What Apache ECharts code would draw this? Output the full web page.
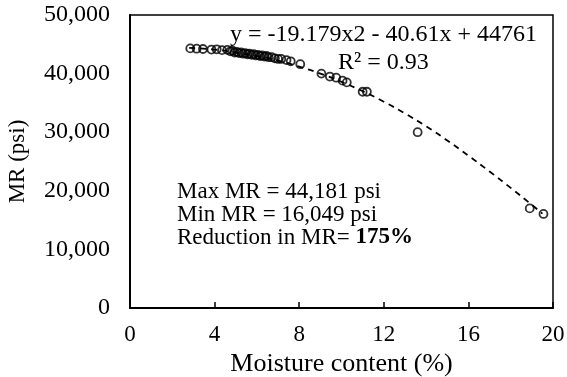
<!DOCTYPE html>
<html>
<head>
<meta charset="utf-8">
<script src="https://cdn.jsdelivr.net/npm/echarts@6/dist/echarts.min.js"></script>
<style>
    html, body { margin: 0; padding: 0; background: #fff; }
    #mr-chart { width: 567px; height: 377px; }
</style>
</head>
<body>
<div id="mr-chart"></div>
<script>
    // moisture content (%) of each test
    var moisture = [2.85, 3.15, 3.45, 3.85, 4.1, 4.35, 4.6, 4.75, 4.85, 4.95, 5.05, 5.15, 5.25, 5.35, 5.45,
        5.55, 5.65, 5.75, 5.85, 5.95, 6.05, 6.15, 6.25, 6.35, 6.45, 6.55, 6.7, 6.85, 7.0, 7.15, 7.4, 7.6,
        8.05, 9.05, 9.45, 9.75, 10.05, 10.25, 11.0, 11.2, 13.6, 18.9, 19.55];
    // resilient modulus (psi)
    var mr = [44300, 44250, 44200, 44100, 44150, 44000, 44050, 43800, 43900, 43600, 43700, 43500, 43600, 43400, 43500,
        43300, 43400, 43200, 43300, 43100, 43200, 43000, 43100, 42900, 43000, 42800, 42800, 42600, 42500, 42500, 42300, 42100,
        41600, 40000, 39500, 39300, 38800, 38500, 36900, 36900, 30000, 17000, 16049];
    // dashed trend line
    var trendX = [2.8, 4, 5, 6, 7, 8, 9, 10, 11, 12, 13, 14, 15, 16, 17, 18, 19, 19.5];
    var trendY = [44400, 44100, 43600, 43000, 42200, 41200, 40000, 38600, 37000, 35200, 33200, 31000, 28600, 26000, 23300, 20500, 17600, 16100];
    var xTicks = [0, 4, 8, 12, 16, 20];
    var yTicks = [0, 10000, 20000, 30000, 40000, 50000];

    var font = '"Liberation Serif", "Times New Roman", serif';

    var chart = echarts.init(document.getElementById('mr-chart'), null, {renderer: 'canvas'});
    chart.setOption({
        animation: false,
        grid: {
            left: 130,
            right: 14,
            top: 15,
            bottom: 69,
            outerBoundsMode: 'none',
            containLabel: false,
            show: true,
            borderColor: '#000',
            borderWidth: 1.5
        },
        xAxis: {
            type: 'value',
            min: xTicks[0],
            max: xTicks[xTicks.length - 1],
            interval: 4,
            name: 'Moisture content (%)',
            nameLocation: 'middle',
            nameGap: 40,
            nameTextStyle: {fontFamily: font, fontSize: 26, color: '#000'},
            axisLine: {lineStyle: {color: '#000', width: 2}},
            axisTick: {inside: true, length: 6, lineStyle: {color: '#000', width: 1.5}},
            axisLabel: {fontFamily: font, fontSize: 23, color: '#000', margin: 15},
            splitLine: {show: false}
        },
        yAxis: {
            type: 'value',
            min: yTicks[0],
            max: yTicks[yTicks.length - 1],
            interval: 10000,
            name: 'MR (psi)',
            nameLocation: 'middle',
            nameGap: 101,
            nameTextStyle: {fontFamily: font, fontSize: 23, color: '#000'},
            axisLine: {show: true, lineStyle: {color: '#000', width: 2}},
            axisTick: {show: false},
            axisLabel: {
                fontFamily: font, fontSize: 24, color: '#000', margin: 20,
                formatter: function (v) {
                    return v.toLocaleString('en-US');
                }
            },
            splitLine: {show: false}
        },
        series: [
            {
                name: 'trend',
                type: 'line',
                data: trendX.map(function (x, i) { return [x, trendY[i]]; }),
                smooth: true,
                showSymbol: false,
                lineStyle: {color: '#000', width: 1.8, type: [6, 5]},
                z: 1
            },
            {
                name: 'MR',
                type: 'scatter',
                data: moisture.map(function (x, i) { return [x, mr[i]]; }),
                symbol: 'circle',
                symbolSize: 8,
                itemStyle: {color: 'rgba(255,255,255,0)', borderColor: '#000', borderWidth: 1.8},
                z: 2
            }
        ],
        graphic: [
            {
                type: 'text',
                left: 230,
                top: 23,
                style: {text: 'y = -19.179x2 - 40.61x + 44761', font: '24px ' + font, fill: '#000'}
            },
            {
                type: 'text',
                left: 338,
                top: 51,
                style: {text: 'R² = 0.93', font: '24px ' + font, fill: '#000'}
            },
            {
                type: 'text',
                left: 177,
                top: 180,
                style: {
                    text: 'Max MR = 44,181 psi\nMin MR = 16,049 psi\nReduction in MR= {b|175%}',
                    font: '23px ' + font,
                    fill: '#000',
                    lineHeight: 23,
                    rich: {
                        b: {font: 'bold 23px ' + font, fill: '#000'}
                    }
                }
            }
        ]
    });
</script>
</body>
</html>
